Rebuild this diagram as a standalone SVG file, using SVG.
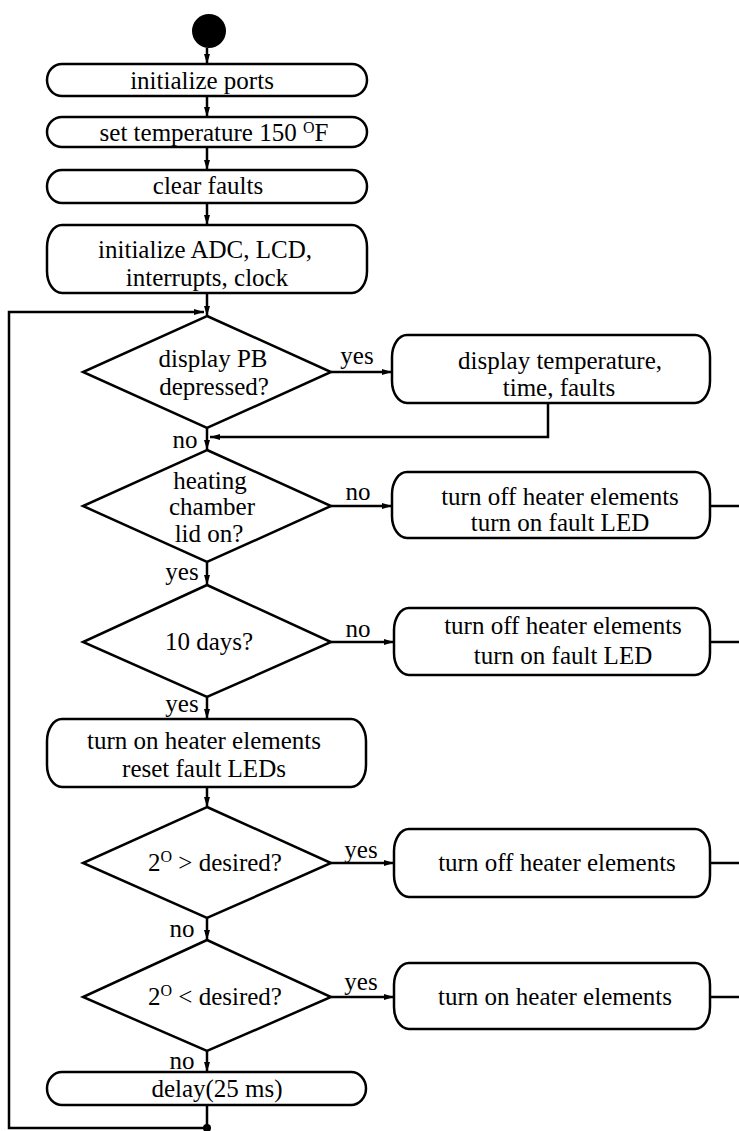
<svg xmlns="http://www.w3.org/2000/svg" width="739" height="1131" viewBox="0 0 739 1131">
<style>
.box{fill:#fff;stroke:#000;stroke-width:2.5}
.dia{fill:#fff;stroke:#000;stroke-width:2.5;stroke-linejoin:miter}
.ln{fill:none;stroke:#000;stroke-width:2.5}
.t{font-family:'Liberation Serif','Times New Roman',serif;font-size:25px;fill:#000;text-anchor:middle}
.sup{font-size:16px}
</style>
<defs>
<marker id="ah" viewBox="0 0 10 6" refX="10" refY="3" markerWidth="10" markerHeight="6" markerUnits="userSpaceOnUse" orient="auto">
<path d="M0,0 L10,3 L0,6 z" fill="#000"/>
</marker>
</defs>
<rect width="739" height="1131" fill="#fff"/>

<g id="connectors">
<line class="ln" x1="207" y1="48" x2="207" y2="64" marker-end="url(#ah)"/>
<line class="ln" x1="207" y1="96" x2="207" y2="117" marker-end="url(#ah)"/>
<line class="ln" x1="207" y1="147" x2="207" y2="170" marker-end="url(#ah)"/>
<line class="ln" x1="207" y1="203" x2="207" y2="225" marker-end="url(#ah)"/>
<line class="ln" x1="207" y1="293" x2="207" y2="316" marker-end="url(#ah)"/>
<polyline class="ln" points="207,1105 207,1128 9,1128 9,312 204,312" marker-end="url(#ah)"/>
<line class="ln" x1="207" y1="428" x2="207" y2="450" marker-end="url(#ah)"/>
<line class="ln" x1="331" y1="372" x2="392" y2="372" marker-end="url(#ah)"/>
<polyline class="ln" points="548,403 548,437 210,437" marker-end="url(#ah)"/>
<line class="ln" x1="331" y1="506" x2="392" y2="506" marker-end="url(#ah)"/>
<line class="ln" x1="710" y1="506" x2="739" y2="506"/>
<line class="ln" x1="207" y1="562" x2="207" y2="585" marker-end="url(#ah)"/>
<line class="ln" x1="331" y1="642" x2="394" y2="642" marker-end="url(#ah)"/>
<line class="ln" x1="710" y1="642" x2="739" y2="642"/>
<line class="ln" x1="207" y1="697" x2="207" y2="719" marker-end="url(#ah)"/>
<line class="ln" x1="207" y1="787" x2="207" y2="807" marker-end="url(#ah)"/>
<line class="ln" x1="331" y1="863" x2="394" y2="863" marker-end="url(#ah)"/>
<line class="ln" x1="710" y1="863" x2="739" y2="863"/>
<line class="ln" x1="207" y1="918" x2="207" y2="940" marker-end="url(#ah)"/>
<line class="ln" x1="331" y1="997" x2="394" y2="997" marker-end="url(#ah)"/>
<line class="ln" x1="710" y1="997" x2="739" y2="997"/>
<line class="ln" x1="207" y1="1051" x2="207" y2="1072" marker-end="url(#ah)"/>
<circle cx="207" cy="1128" r="4" fill="#000"/>
<text class="t" x="357" y="364">yes</text>
<text class="t" x="185" y="448">no</text>
<text class="t" x="358" y="500">no</text>
<text class="t" x="182" y="580">yes</text>
<text class="t" x="358" y="637">no</text>
<text class="t" x="182" y="712">yes</text>
<text class="t" x="361" y="858">yes</text>
<text class="t" x="182" y="937">no</text>
<text class="t" x="361" y="990">yes</text>
<text class="t" x="182" y="1069">no</text>
</g>

<g id="start"><circle cx="209" cy="31" r="17" fill="#000"/></g>

<g id="init-ports">
<rect class="box" x="47" y="64" width="320" height="32" rx="15" ry="16"/>
<text class="t" x="202" y="89">initialize ports</text>
</g>
<g id="set-temp">
<rect class="box" x="47" y="117" width="320" height="30" rx="15" ry="15"/>
<text class="t" x="214" y="141">set temperature 150 <tspan class="sup" dy="-8">O</tspan><tspan dy="8">F</tspan></text>
</g>
<g id="clear-faults">
<rect class="box" x="47" y="170" width="320" height="33" rx="15" ry="16.5"/>
<text class="t" x="208" y="194">clear faults</text>
</g>
<g id="init-adc">
<rect class="box" x="47" y="225" width="320" height="68" rx="15" ry="22"/>
<text class="t" x="205" y="258">initialize ADC, LCD,</text>
<text class="t" x="207" y="286">interrupts, clock</text>
</g>

<g id="d-display">
<polygon class="dia" points="207,316 331,372 207,428 83,372"/>
<text class="t" x="213" y="367">display PB</text>
<text class="t" x="214" y="395">depressed?</text>
</g>
<g id="show-temp">
<rect class="box" x="392" y="335" width="318" height="68" rx="15" ry="22"/>
<text class="t" x="560" y="369">display temperature,</text>
<text class="t" x="559" y="396">time, faults</text>
</g>

<g id="d-lid">
<polygon class="dia" points="207,450 331,506 207,562 83,506"/>
<text class="t" x="210" y="489">heating</text>
<text class="t" x="212" y="515">chamber</text>
<text class="t" x="209" y="542">lid on?</text>
</g>
<g id="lid-fault">
<rect class="box" x="392" y="472" width="318" height="66" rx="15" ry="22"/>
<text class="t" x="560" y="505">turn off heater elements</text>
<text class="t" x="560" y="531">turn on fault LED</text>
</g>

<g id="d-days">
<polygon class="dia" points="207,585 331,642 207,697 83,642"/>
<text class="t" x="209" y="650">10 days?</text>
</g>
<g id="days-fault">
<rect class="box" x="394" y="608" width="316" height="67" rx="15" ry="22"/>
<text class="t" x="563" y="634">turn off heater elements</text>
<text class="t" x="563" y="664">turn on fault LED</text>
</g>

<g id="heater-on">
<rect class="box" x="47" y="719" width="319" height="68" rx="15" ry="22"/>
<text class="t" x="204" y="749">turn on heater elements</text>
<text class="t" x="204" y="777">reset fault LEDs</text>
</g>

<g id="d-above">
<polygon class="dia" points="207,807 331,863 207,918 83,863"/>
<text class="t" x="215" y="871">2<tspan class="sup" dy="-9">O</tspan><tspan dy="9"> &gt; desired?</tspan></text>
</g>
<g id="heater-off">
<rect class="box" x="394" y="829" width="316" height="68" rx="15" ry="22"/>
<text class="t" x="557" y="871">turn off heater elements</text>
</g>

<g id="d-below">
<polygon class="dia" points="207,940 331,997 207,1051 83,997"/>
<text class="t" x="215" y="1005">2<tspan class="sup" dy="-9">O</tspan><tspan dy="9"> &lt; desired?</tspan></text>
</g>
<g id="heater-on2">
<rect class="box" x="394" y="963" width="316" height="66" rx="15" ry="22"/>
<text class="t" x="555" y="1005">turn on heater elements</text>
</g>

<g id="delay">
<rect class="box" x="47" y="1072" width="319" height="33" rx="15" ry="16.5"/>
<text class="t" x="217" y="1097">delay(25 ms)</text>
</g>
</svg>
